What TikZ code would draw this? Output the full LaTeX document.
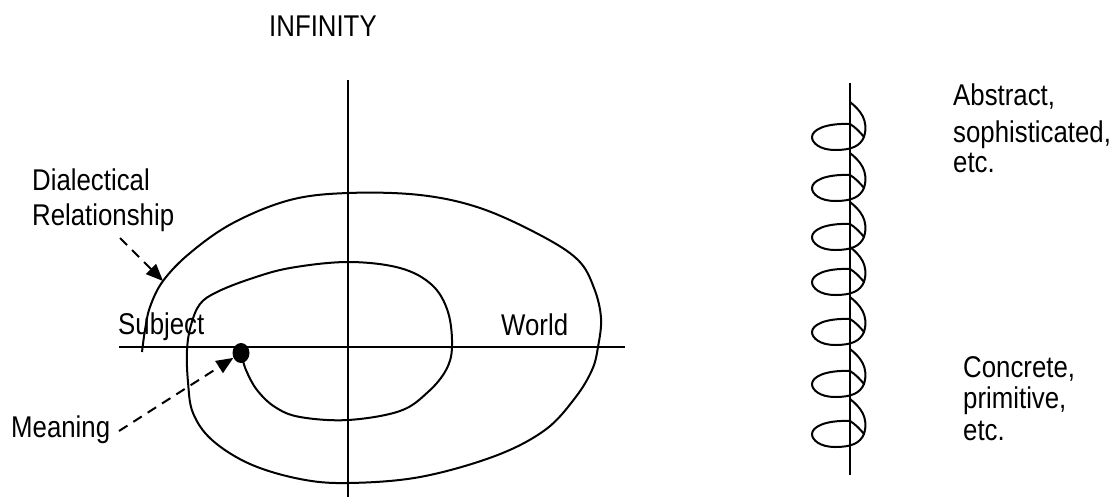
\documentclass[tikz,border=0pt]{standalone}
\usepackage{fontspec}
\setmainfont{Liberation Sans}[FakeStretch=0.86]
\usetikzlibrary{arrows.meta,shapes.geometric}
\begin{document}
\begin{tikzpicture}[x=1pt,y=-1pt,
  line/.style={line width=2pt,line join=round},
  dasharrow/.style={line width=2pt,dash pattern=on 10pt off 7pt,-{Triangle[length=17pt,width=14pt]}},
  lbl/.style={anchor=base west,inner sep=0pt,font=\fontsize{30}{36}\selectfont}]
\useasboundingbox (0,0) rectangle (1115,499);
% axes
\draw[line] (348,80) -- (348,497);
\draw[line] (119,347) -- (625,347);
% spiral
\draw[line] plot[smooth,tension=0.6] coordinates {
 (241,353) (246,370) (257,390) (275,407) (300,417) (348,420) (400,411)
 (428,392) (446,370) (452,347) (448,312) (432,285) (400,268) (348,262)
 (290,268) (250,279) (217,292) (200,304) (191,325) (187,350) (188,382)
 (193,413) (212,440) (250,464) (300,479) (348,483) (420,477) (495,456)
 (545,430) (575,398) (592,370) (598,347) (601,318) (594,288) (578,260)
 (540,235) (480,208) (420,195) (348,193) (290,200) (233,223) (190,253)
 (163,281) (150,307) (145,330) (142,352)};
\node[ellipse,fill=black,inner sep=0pt,minimum width=17,minimum height=20] (dot) at (241,353) {};
% labels
\node[lbl] (inf) at (269,36) {INFINITY};
\node[lbl] (dia1) at (32,190) {Dialectical};
\node[lbl] (dia2) at (32,225) {Relationship};
\node[lbl] (subj) at (118,334) {Subject};
\node[lbl] (world) at (501,335) {World};
\node[lbl] (mean) at (11,437) {Meaning};
\node[lbl] (abs1) at (953,105) {Abstract,};
\node[lbl] (abs2) at (953,142) {sophisticated,};
\node[lbl] (abs3) at (953,172) {etc.};
\node[lbl] (con1) at (963,377) {Concrete,};
\node[lbl] (con2) at (963,408) {primitive,};
\node[lbl] (con3) at (963,440) {etc.};
% arrows
\coordinate (dstart) at (120,238);
\coordinate (dend) at (163,281);
\draw[dasharrow] (dstart) -- (dend);
\coordinate (mstart) at (119,431);
\draw[dasharrow] (mstart) -- (dot);
% spring
\draw[line] (850,83) -- (850,475);
\foreach \yc in {137,188,237,282,332,384,434}{
  \draw[line] (850,\yc-35) .. controls (860,\yc-27) and (869,\yc-17) .. (864,\yc)
    .. controls (860,\yc+9) and (852,\yc+13) .. (835,\yc+13)
    .. controls (820,\yc+13) and (812,\yc+6) .. (812,\yc)
    .. controls (812,\yc-7) and (825,\yc-14) .. (850,\yc-13)
    .. controls (855,\yc-10) and (860,\yc-5) .. (864,\yc);
}
\end{tikzpicture}
\end{document}
